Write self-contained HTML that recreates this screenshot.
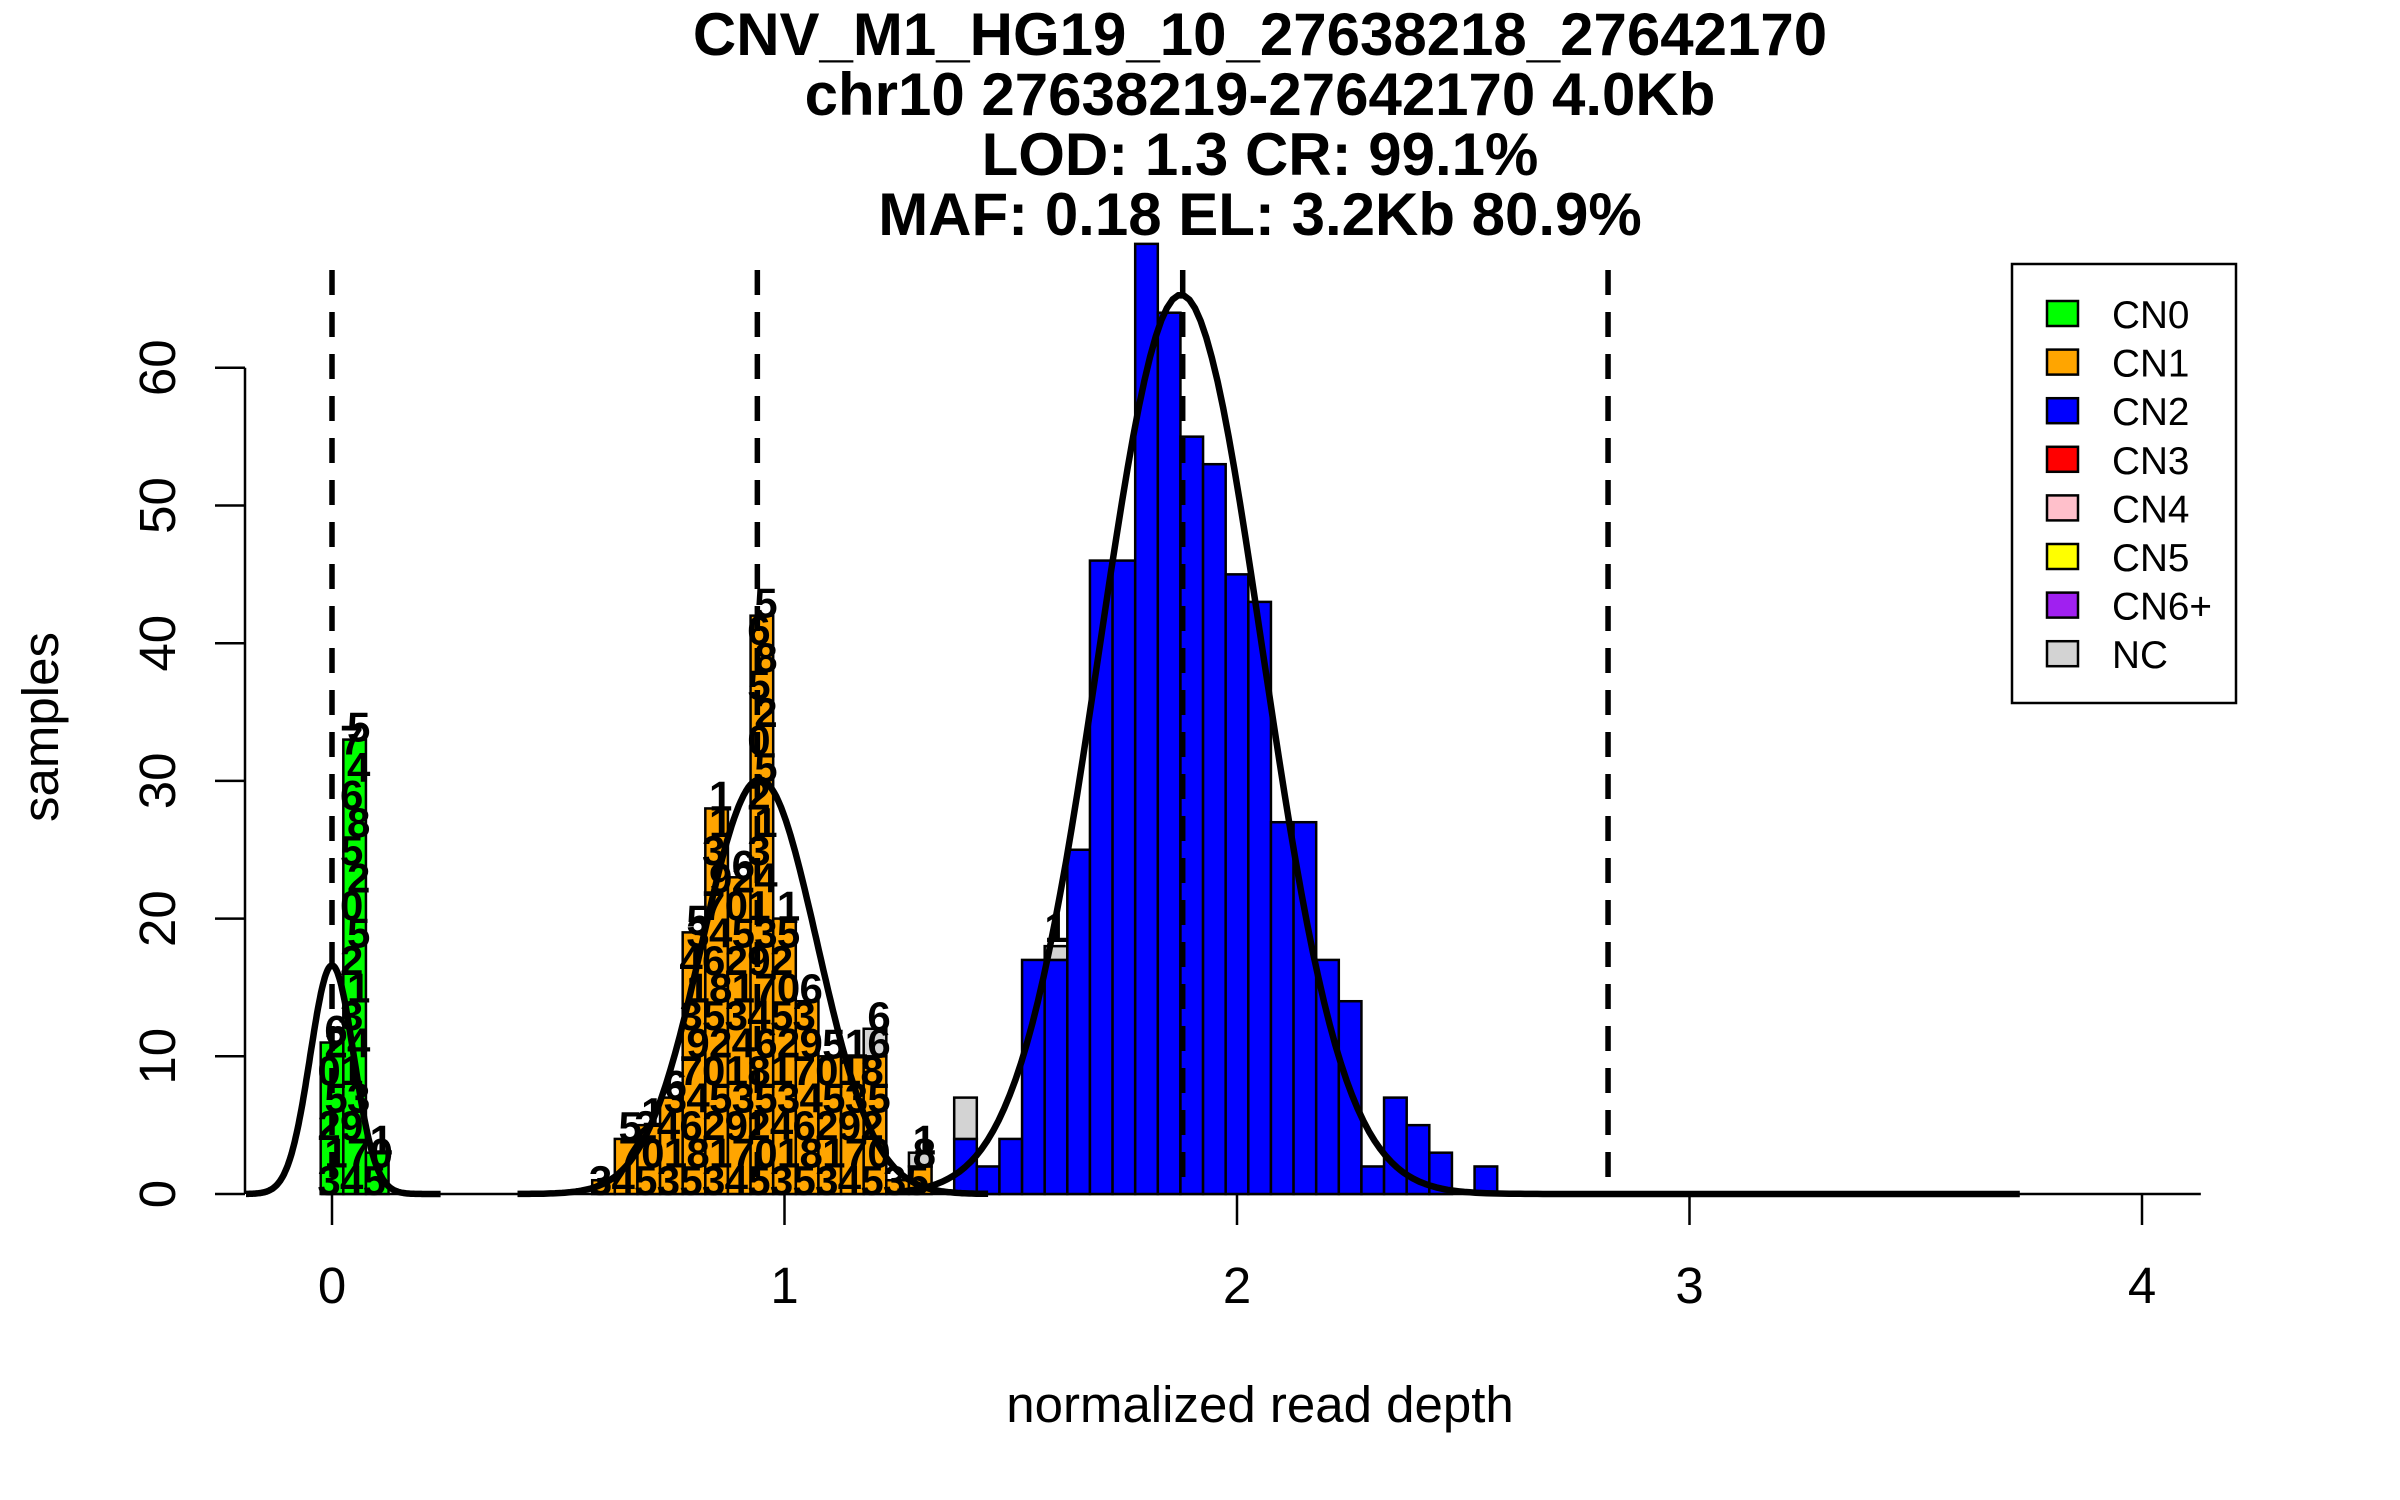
<!DOCTYPE html>
<html><head><meta charset="utf-8"><style>
html,body{margin:0;padding:0;background:#fff;}
svg{display:block;font-family:"Liberation Sans",Arial,sans-serif;}
</style></head><body>
<svg id="chart" width="2400" height="1500" viewBox="0 0 2400 1500" xmlns="http://www.w3.org/2000/svg">
<rect width="2400" height="1500" fill="#fff"/>
<g id="title" font-weight="bold" font-size="60" text-anchor="middle">
<text x="1260" y="55">CNV_M1_HG19_10_27638218_27642170</text>
<text x="1260" y="115">chr10 27638219-27642170 4.0Kb</text>
<text x="1260" y="175">LOD: 1.3 CR: 99.1%</text>
<text x="1260" y="235">MAF: 0.18 EL: 3.2Kb 80.9%</text>
</g>
<g id="bars"></g>
<g id="labels" font-weight="bold" font-size="42" text-anchor="middle"></g>
<g id="curves"></g>
<g id="vlines"></g>
<g id="axes"></g>
<text x="1260" y="1422" font-size="51" text-anchor="middle">normalized read depth</text>
<text transform="translate(58,727) rotate(-90)" font-size="51" text-anchor="middle">samples</text>
<g id="legend"></g>
</svg>
<script>
// ---- data ----
const binWidth = 0.05;
const cn0Start = 0.00;
const cn0Counts = [11, 33, 3];
const cn1Start = 0.60;
const cn1Counts = [1, 4, 5, 7, 19, 28, 23, 42, 20, 14, 10, 10, 10, 1, 2];
const cn1NcCounts = [0, 0, 0, 0, 0, 0, 0, 0, 0, 0, 0, 0, 2, 0, 1];
const cn2Start = 1.40;
const cn2Counts = [4, 2, 4, 17, 17, 25, 46, 46, 69, 64, 55, 53, 45, 43, 27, 27, 17, 14, 2, 7, 5, 3, 0, 2];
const cn2NcCounts = [3, 0, 0, 0, 1, 0, 0, 0, 0, 0, 0, 0, 0, 0, 0, 0, 0, 0, 0, 0, 0, 0, 0, 0];
const fitMeans = [0.0, 0.945, 1.876];
const fitSds = [0.048, 0.127, 0.18];
const fitPeaks = [16.6, 30.1, 65.3];
const fitFrom = [-0.19, 0.41, 1.25];
const fitTo = [0.24, 1.45, 3.73];
const cnLines = [0, 0.94, 1.88, 2.82];
const xTicks = [0, 1, 2, 3, 4];
const yTicks = [0, 10, 20, 30, 40, 50, 60];
const legendLabels = ["CN0","CN1","CN2","CN3","CN4","CN5","CN6+","NC"];
const legendColors = ["#00ff00","#ffa500","#0000ff","#ff0000","#ffc0cb","#ffff00","#a020f0","#d3d3d3"];
const sampleDigits = ["8","3","6","1","4","2","7","5","9","0","3","2","1","5","4"];

// ---- scales ----
const NS = "http://www.w3.org/2000/svg";
function X(v){ return 332 + 452.5 * v; }
function Y(c){ return 1194 - 13.77 * c; }
function mk(tag, attrs, parent){ const e = document.createElementNS(NS, tag); for (const k in attrs) e.setAttribute(k, attrs[k]); parent.appendChild(e); return e; }

const gBars = document.getElementById('bars');
const gLab = document.getElementById('labels');
const gCur = document.getElementById('curves');
const gV = document.getElementById('vlines');
const gAx = document.getElementById('axes');
const gLeg = document.getElementById('legend');

const base = mk('line', {x1: X(-0.025), x2: X(4.13), y1: Y(0), y2: Y(0), stroke: '#000', 'stroke-width': 2.5}, gBars);



function drawSeries(start, counts, ncCounts, color, name, labelled){
  counts.forEach((c, i) => {
    const v = start + i * binWidth;
    const x0 = X(v - binWidth/2), w = X(v + binWidth/2) - x0;
    if (c > 0){
      const r = mk('rect', {x: x0, y: Y(c), width: w, height: Y(0) - Y(c), fill: color, stroke: '#000', 'stroke-width': 2.5}, gBars);
      
      
    }
    const nc = ncCounts ? ncCounts[i] : 0;
    if (nc > 0){
      const r2 = mk('rect', {x: x0, y: Y(c + nc), width: w, height: Y(c) - Y(c + nc), fill: '#d3d3d3', stroke: '#000', 'stroke-width': 2.5}, gBars);
      
      
    }
    if (labelled){
      const tot = c + nc;
      for (let k = 1; k <= tot; k += 2){
        const t = mk('text', {x: X(v) + ((k % 4 === 1) ? -3 : 4), y: Y(k) + 15}, gLab);
        t.textContent = sampleDigits[(k + i * 3) % sampleDigits.length];
        
        
      }
      if (tot > 1){
        const t = mk('text', {x: X(v) + 4, y: Y(tot) + 2}, gLab);
        t.textContent = sampleDigits[(i * 5 + 2) % sampleDigits.length];
        
        
      }
    }
  });
}
drawSeries(cn0Start, cn0Counts, null, '#00ff00', 'cn0', true);
drawSeries(cn1Start, cn1Counts, cn1NcCounts, '#ffa500', 'cn1', true);
drawSeries(cn2Start, cn2Counts, cn2NcCounts, '#0000ff', 'cn2', false);
{
  const t = mk('text', {x: X(1.60), y: Y(18) - 4}, gLab);
  t.textContent = '1';
  
  
}

fitMeans.forEach((m, j) => {
  let d = '';
  const n = 200;
  for (let s = 0; s <= n; s++){
    const v = fitFrom[j] + (fitTo[j] - fitFrom[j]) * s / n;
    const c = fitPeaks[j] * Math.exp(-((v - m) ** 2) / (2 * fitSds[j] ** 2));
    d += (s ? 'L' : 'M') + X(v).toFixed(1) + ' ' + Y(c).toFixed(1);
  }
  const p = mk('path', {d: d, fill: 'none', stroke: '#000', 'stroke-width': 6.5, 'stroke-linejoin': 'round'}, gCur);
  
  
});

cnLines.forEach((v, j) => {
  const l = mk('line', {x1: X(v), x2: X(v), y1: 270, y2: Y(0), stroke: '#000', 'stroke-width': 5.5, 'stroke-dasharray': '25 17'}, gV);
  
  
});

const ya = mk('line', {x1: 245, x2: 245, y1: Y(60), y2: Y(0), stroke: '#000', 'stroke-width': 2.5}, gAx);


yTicks.forEach(t => {
  const tk = mk('line', {x1: 215, x2: 245, y1: Y(t), y2: Y(t), stroke: '#000', 'stroke-width': 2.5}, gAx);
  
  
  const lb = mk('text', {transform: 'translate(175,' + Y(t) + ') rotate(-90)', 'font-size': 51, 'text-anchor': 'middle'}, gAx);
  lb.textContent = t;
  
  
});
xTicks.forEach(t => {
  const tk = mk('line', {x1: X(t), x2: X(t), y1: Y(0), y2: 1225, stroke: '#000', 'stroke-width': 2.5}, gAx);
  
  
  const lb = mk('text', {x: X(t), y: 1303, 'font-size': 51, 'text-anchor': 'middle'}, gAx);
  lb.textContent = t;
  
  
});

const lbox = mk('rect', {x: 2012, y: 264, width: 224, height: 439, fill: '#fff', stroke: '#000', 'stroke-width': 2.5}, gLeg);


legendLabels.forEach((lab, i) => {
  const sw = mk('rect', {x: 2047, y: 301 + 48.6 * i, width: 31, height: 25, fill: legendColors[i], stroke: '#000', 'stroke-width': 2.5}, gLeg);
  
  
  const tx = mk('text', {x: 2112, y: 328 + 48.6 * i, 'font-size': 38.7}, gLeg);
  tx.textContent = lab;
  
  
});
</script>
</body></html>
